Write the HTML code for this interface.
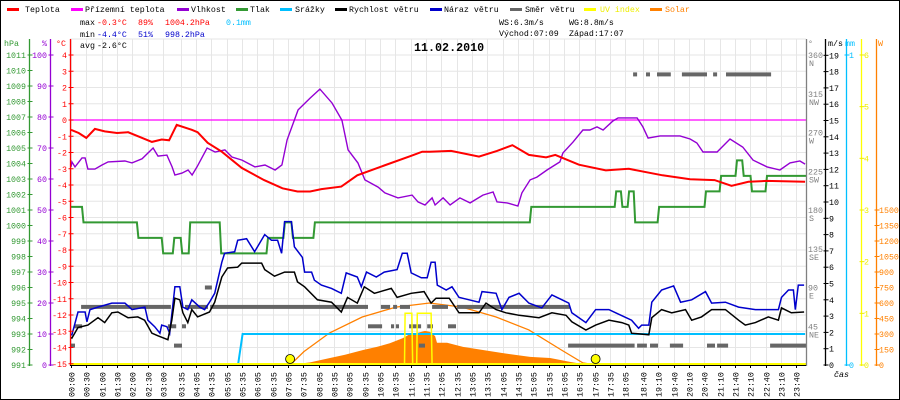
<!DOCTYPE html>
<html><head><meta charset="utf-8"><title>11.02.2010</title>
<style>
html,body{margin:0;padding:0;background:#fff;}
svg{display:block;}
text{font-family:"Liberation Mono",monospace;font-size:8.3px;}
</style></head>
<body>
<svg id="chart" width="900" height="400" viewBox="0 0 900 400" xmlns="http://www.w3.org/2000/svg">
<rect x="0.5" y="0.5" width="899" height="399" fill="#fff" stroke="#000" stroke-width="1"/>
<g id="grid"></g>
<g id="series"></g>
<g id="axes"></g>
<g>
  <rect x="7" y="8" width="12" height="3" fill="#ff0000"/><text x="25" y="12">Teplota</text>
  <rect x="71" y="8" width="12" height="3" fill="#ff00ff"/><text x="85" y="12">Přízemní teplota</text>
  <rect x="177" y="8" width="12" height="3" fill="#9400d3"/><text x="191" y="12">Vlhkost</text>
  <rect x="236" y="8" width="12" height="3" fill="#339933"/><text x="250" y="12">Tlak</text>
  <rect x="280" y="8" width="12" height="3" fill="#00bfff"/><text x="295" y="12">Srážky</text>
  <rect x="335" y="8" width="12" height="3" fill="#000"/><text x="349" y="12">Rychlost větru</text>
  <rect x="430" y="8" width="12" height="3" fill="#0000cc"/><text x="444" y="12">Náraz větru</text>
  <rect x="510" y="8" width="12" height="3" fill="#666"/><text x="525" y="12">Směr větru</text>
  <rect x="584" y="8" width="12" height="3" fill="#ffff00"/><text x="600" y="12" fill="#eeee00">UV index</text>
  <rect x="650" y="8" width="12" height="3" fill="#ff8000"/><text x="665" y="12" fill="#ff8000">Solar</text>
</g>
<g>
  <text x="80" y="25">max</text>
  <text x="97" y="25" fill="#ff0000">-0.3°C</text>
  <text x="138" y="25" fill="#ff0000">89%</text>
  <text x="165" y="25" fill="#ff0000">1004.2hPa</text>
  <text x="226" y="25" fill="#00bfff">0.1mm</text>
  <text x="80" y="37">min</text>
  <text x="97" y="37" fill="#0000cc">-4.4°C</text>
  <text x="138" y="37" fill="#0000cc">51%</text>
  <text x="165" y="37" fill="#0000cc">998.2hPa</text>
  <text x="80" y="48">avg</text>
  <text x="97" y="48">-2.6°C</text>
  <text x="499" y="25">WS:6.3m/s</text>
  <text x="569" y="25">WG:8.8m/s</text>
  <text x="499" y="36">Východ:07:09</text>
  <text x="569" y="36">Západ:17:07</text>
  <text x="414" y="51" style="font-size:11.7px;font-weight:bold">11.02.2010</text>
</g>
</svg>
<script>
// ---- data ----
const timeTickHours = [0,0.5,1,1.5,2,2.5,3,3.583,4.083,4.583,5.083,5.583,6.083,6.583,7.083,7.583,8.083,8.583,9.083,9.583,10.083,10.583,11.083,11.583,12.083,12.583,13.083,13.583,14.083,14.583,15.083,15.583,16.083,16.583,17.083,17.583,18.083,18.667,19.167,19.667,20.167,20.667,21.167,21.667,22.167,22.667,23.167,23.667];
const timeTickLabels = ["00:00","00:30","01:00","01:30","02:00","02:30","03:00","03:35","04:05","04:35","05:05","05:35","06:05","06:35","07:05","07:35","08:05","08:35","09:05","09:35","10:05","10:35","11:05","11:35","12:05","12:35","13:05","13:35","14:05","14:35","15:05","15:35","16:05","16:35","17:05","17:35","18:05","18:40","19:10","19:40","20:10","20:40","21:10","21:40","22:10","22:40","23:10","23:40"];

const tempT = [0,0.25,0.5,0.78,1.1,1.5,1.86,2.25,2.64,2.96,3.2,3.45,3.94,4.13,4.46,4.92,5.57,6.3,6.9,7.39,7.8,8.17,8.82,9.34,10.22,11.1,11.46,11.7,12.4,13.31,13.9,14.4,14.94,15.5,15.8,16.57,17.45,18.2,19.3,20.2,21.0,21.55,22.1,22.7,23.95];
const tempV = [-0.6,-0.8,-1.1,-0.55,-0.7,-0.8,-0.75,-1.05,-1.35,-1.2,-1.25,-0.3,-0.6,-0.75,-1.4,-1.95,-2.95,-3.7,-4.2,-4.4,-4.4,-4.25,-4.1,-3.4,-2.8,-2.2,-1.95,-1.95,-1.9,-2.25,-1.9,-1.55,-2.15,-2.3,-2.15,-2.75,-3.1,-3.0,-3.4,-3.65,-3.7,-4.05,-3.8,-3.75,-3.8];

const groundT = [0,23.95];
const groundV = [0,0];

const humT = [0,0.03,0.13,0.36,0.46,0.55,0.78,1.01,1.21,1.76,1.99,2.32,2.68,2.84,3.13,3.3,3.39,3.62,3.82,3.95,4.11,4.44,4.7,5.02,5.25,5.58,6.0,6.33,6.66,6.88,7.05,7.41,7.8,8.12,8.52,8.84,9.04,9.36,9.59,10.02,10.24,10.67,11.13,11.32,11.55,11.78,11.88,12.14,12.37,12.69,13.02,13.44,13.77,13.9,14.23,14.58,14.71,14.98,15.2,15.53,15.95,16.05,16.38,16.7,16.93,17.16,17.36,17.68,17.85,18.47,18.66,18.83,19.22,19.87,20.2,20.42,20.62,21.08,21.5,21.92,22.25,22.71,23.13,23.46,23.78,23.95];
const humV = [63.9,65.5,63.9,66.8,66.8,63.2,63.2,64.5,65.5,65.8,65.2,66.5,70,67.4,67.7,63.9,61.3,61.9,62.9,61.3,63.9,70,68.7,69.4,67.1,66.1,63.9,64.5,62.9,64.5,72.6,82.3,86.1,89,84.5,79,69.4,65.2,59.7,57.4,55.5,53.9,54.8,52.6,51.6,53.9,51.6,53.9,51.6,53.9,52.3,54.8,55.8,52.6,52.3,51.3,55.5,59.7,60.6,62.9,65.5,68.4,71.9,75.8,75.8,76.8,75.8,78.7,79.7,79.7,76.8,73.2,73.9,73.9,72.9,71.6,68.7,68.7,72.9,70.3,66.1,63.9,62.9,65.2,65.8,64.8];

const pressStartT = [0,0.36,2.15,2.96,3.32,3.58,3.84,4.85,6.38,6.93,7.19,7.91,14.97,17.74,17.94,18.16,18.36,19.14,20.67,21.16,21.68,21.9,22.17,22.66];
const pressV = [1001.2,1000.2,999.2,998.2,999.2,998.2,1000.2,998.2,999.2,1000.2,999.2,1000.2,1001.2,1002.2,1001.2,1002.2,1000.2,1001.2,1002.2,1003.2,1004.2,1003.2,1002.2,1003.2];

const rainT = [0,5.45,5.6,23.95];
const rainV = [0,0,0.1,0.1];

const windT = [0,0.03,0.23,0.55,0.88,1.1,1.33,1.53,1.86,2.18,2.4,2.64,2.83,3.16,3.29,3.39,3.55,3.65,3.81,3.94,4.13,4.52,4.69,4.92,5.11,5.44,5.57,6.22,6.32,6.64,6.97,7.29,7.39,7.62,8.04,8.5,8.82,9.02,9.34,9.57,9.9,10.45,10.64,11.1,11.52,11.75,11.91,12.34,12.66,13.31,13.54,13.87,14.19,14.62,15.27,15.69,16.15,16.34,16.8,17.12,17.55,17.97,18.2,18.29,18.85,18.95,19.27,19.6,20.05,20.25,20.57,20.9,21.35,21.78,22.0,22.33,22.75,23.08,23.18,23.5,23.92];
const windV = [1.7,1.65,2.3,2.45,2.9,2.6,3.2,3.25,2.9,2.95,2.75,1.95,1.8,1.55,2.75,4.1,4.0,3.2,2.6,3.4,2.95,3.25,3.85,5.4,5.95,6.0,6.25,6.25,5.85,5.45,5.7,5.7,5.1,4.8,4.0,3.85,3.25,4.15,3.8,4.8,4.4,4.7,4.15,4.4,4.5,3.8,4.1,4.1,3.2,3.2,3.8,3.4,3.2,3.05,2.9,3.2,3.05,2.65,2.15,2.45,2.75,2.6,2.45,1.95,1.85,2.9,3.4,3.2,3.4,2.75,2.95,3.4,3.4,2.75,2.45,2.6,2.95,2.75,3.5,3.2,3.25];

const gustT = [0,0.03,0.23,0.46,0.52,0.62,0.88,1.33,1.76,1.99,2.41,2.51,2.73,2.9,2.96,3.13,3.22,3.39,3.55,3.65,3.81,3.94,4.2,4.36,4.52,4.69,4.92,5.01,5.34,5.44,5.73,5.99,6.32,6.54,6.74,6.87,6.97,7.19,7.29,7.55,7.62,7.85,7.94,8.17,8.5,8.82,8.98,9.34,9.47,9.64,9.96,10.22,10.64,10.81,10.97,11.1,11.43,11.62,11.75,11.88,11.95,12.24,12.43,12.66,12.99,13.31,13.41,13.87,14.06,14.29,14.62,14.94,15.36,15.69,16.02,16.24,16.34,16.8,17.12,17.55,17.77,18.29,18.52,18.62,18.85,18.95,19.27,19.66,19.89,20.25,20.7,20.9,21.35,21.78,22.33,23.08,23.18,23.41,23.57,23.63,23.73,23.92];
const gustV = [1.85,1.85,3.25,3.25,2.65,3.4,3.55,3.8,3.8,3.4,3.55,2.75,2.35,1.95,2.45,2.35,1.95,4.8,4.8,3.55,3.4,4.0,3.55,3.4,3.85,4.4,6.3,6.85,6.95,7.65,7.75,6.95,8.0,7.65,7.65,6.85,8.8,8.8,7.25,6.6,5.7,5.7,5.2,4.9,4.7,4.4,5.65,5.4,4.8,5.7,5.4,5.7,5.85,6.85,6.85,5.65,5.35,5.35,6.3,6.3,4.9,4.6,4.8,4.15,4.0,3.85,4.5,4.4,3.4,4.15,4.4,3.8,3.5,4.3,4.0,3.8,3.2,2.6,3.4,3.4,3.2,2.75,2.25,2.45,2.45,3.85,4.6,4.85,3.85,4.0,4.5,3.8,3.85,3.55,3.4,3.4,4.15,4.6,4.6,3.4,4.9,4.9];

const dirStart = [0,0.1,0.33,3.16,3.36,3.62,3.72,4.37,4.54,9.69,10.11,10.44,10.51,10.6,10.73,11.03,11.35,11.62,11.78,12.3,12.59,16.22,18.47,18.89,19.54,20.75,21.08,22.81,18.34,18.76,19.12,19.93,20.95,21.37];
const dirEnd   = [0.13,0.36,3.26,3.43,3.62,3.75,4.47,4.6,9.69,10.15,10.41,10.54,10.64,10.7,11.06,11.42,11.55,11.81,12.3,12.56,16.28,18.39,18.79,19.15,19.97,21.01,21.44,23.98,18.47,18.89,19.57,20.75,21.08,22.84];
const dirDeg   = [22.5,45,67.5,45,22.5,45,67.5,90,67.5,45,67.5,45,67.5,45,67.5,45,22.5,45,67.5,45,67.5,22.5,22.5,22.5,22.5,22.5,22.5,22.5,337.5,337.5,337.5,337.5,337.5,337.5];

const uvT = [0,10.88,10.9,11.12,11.15,11.28,11.3,11.75,11.78,23.95];
const uvV = [0,0,1,1,0,0,1,1,0,0];

const solarT = [7.15,7.37,7.8,8.45,8.94,9.53,9.98,10.4,10.83,11.06,11.29,11.55,11.71,11.88,11.94,12.27,12.79,13.44,14.09,14.98,15.63,16.28,16.7,16.93];
const solarV = [0,10,25,68,100,145,175,210,260,300,310,330,320,280,215,215,175,145,115,78,68,30,10,0];

const solarMaxT = [7.15,7.6,8.43,9.5,10.6,11.7,12.76,13.87,14.94,16.0,16.7,17.12];
const solarMaxV = [0,130,310,465,560,600,560,465,340,145,20,0];

const sunEventsT = [7.15,17.117];
const sunEventsName = ["sunrise-marker","sunset-marker"];

const hpaTicks = [991,992,993,994,995,996,997,998,999,1000,1001,1002,1003,1004,1005,1006,1007,1008,1009,1010,1011];
const humTicks = [0,10,20,30,40,50,60,70,80,90,100];
const tempTicks = [4,3,2,1,0,-1,-2,-3,-4,-5,-6,-7,-8,-9,-10,-11,-12,-13,-14,-15];
const dirTicks = [45,90,135,180,225,270,315,360];
const dirLabels = ["NE","E","SE","S","SW","W","NW","N"];
const msTicks = [0,1,2,3,4,5,6,7,8,9,10,11,12,13,14,15,16,17,18,19];
const uvTicks = [0,1,2,3,4,5,6];
const wTicks = [0,150,300,450,600,750,900,1050,1200,1350,1500];

// ---- scales ----
const X = t => 71 + t*30.65;
const yT = v => 120 - v*16.25;
const yH = v => 365 - v*3.1;
const yP = v => 365 - (v-991)*15.5;
const yV = v => 365 - v*16.3;
const yD = v => 365 - v*0.8611;
const yR = v => 365 - v*310;
const yU = v => 365 - v*51.67;
const yW = v => 365 - v*0.10333;

const NS = "http://www.w3.org/2000/svg";
function mk(tag, parent, attrs){
  const e = document.createElementNS(NS, tag);
  for (const k in attrs) e.setAttribute(k, attrs[k]);
  parent.appendChild(e);
  return e;
}
const grid = document.getElementById('grid');
const ser = document.getElementById('series');
const axes = document.getElementById('axes');

// grid
tempTicks.forEach(v => {
  const l = mk('line', grid, {x1:70, x2:806, y1:yT(v), y2:yT(v), stroke:'#e6e6e6', 'stroke-width':1});
  
  
});
{
  const l = mk('line', grid, {x1:70, x2:806, y1:39, y2:39, stroke:'#e6e6e6', 'stroke-width':1});
  
  
}
timeTickHours.forEach((t, i) => {
  const x = Math.round(X(t)) + 0.5;
  const l = mk('line', grid, {x1:x, x2:x, y1:39, y2:365, stroke:'#e6e6e6', 'stroke-width':1});
  
  
  const tk = mk('line', axes, {x1:x, x2:x, y1:365, y2:368, stroke:'#000', 'stroke-width':1});
  
  
  const tx = mk('text', axes, {x:0, y:0, transform:`translate(${x+3},397) rotate(-90)`});
  tx.textContent = timeTickLabels[i];
  
  
});

function pts(ts, vs, fy){ return ts.map((t,i)=> X(t).toFixed(1)+','+fy(vs[i]).toFixed(1)).join(' '); }

// solar fill (actual)
{
  let d = `M${X(solarT[0])},365 ` + solarT.map((t,i)=>`L${X(t).toFixed(1)},${yW(solarV[i]).toFixed(1)}`).join(' ') + ` L${X(solarT[solarT.length-1])},365 Z`;
  const p = mk('path', ser, {d:d, fill:'#ff8000', stroke:'none'});
  
  
}
// solar theoretical
{
  const p = mk('polyline', ser, {points:pts(solarMaxT, solarMaxV, yW), fill:'none', stroke:'#ff8000', 'stroke-width':1.3});
  
  
}
// wind direction blocks
dirStart.forEach((s, i) => {
  const x1 = X(s), x2 = X(dirEnd[i]);
  const r = mk('rect', ser, {x:x1.toFixed(1), y:(yD(dirDeg[i])-2).toFixed(1), width:Math.max(3,x2-x1).toFixed(1), height:4, fill:'#666'});
  
  
});
// ground temp
{
  const p = mk('polyline', ser, {points:'70,'+yT(groundV[0])+' 806,'+yT(groundV[1]), fill:'none', stroke:'#ff00ff', 'stroke-width':1.3});
  
  
}
// pressure step
{
  let p = [];
  pressStartT.forEach((t,i)=>{
    if (i>0) p.push(X(t).toFixed(1)+','+yP(pressV[i-1]).toFixed(1));
    p.push((X(t)+(i>0?1.5:0)).toFixed(1)+','+yP(pressV[i]).toFixed(1));
  });
  p.push('806,'+yP(pressV[pressV.length-1]).toFixed(1));
  const l = mk('polyline', ser, {points:p.join(' '), fill:'none', stroke:'#339933', 'stroke-width':2});
  
  
}
// rain
{
  const l = mk('polyline', ser, {points:pts(rainT, rainV, yR), fill:'none', stroke:'#00bfff', 'stroke-width':2});
  
  
}
// humidity
{
  const l = mk('polyline', ser, {points:pts(humT, humV, yH), fill:'none', stroke:'#9400d3', 'stroke-width':1.4});
  
  
}
// temp
{
  const l = mk('polyline', ser, {points:pts(tempT, tempV, yT), fill:'none', stroke:'#ff0000', 'stroke-width':2});
  
  
}
// gust
{
  const l = mk('polyline', ser, {points:pts(gustT, gustV, yV), fill:'none', stroke:'#0000cc', 'stroke-width':1.5});
  
  
}
// wind speed
{
  const l = mk('polyline', ser, {points:pts(windT, windV, yV), fill:'none', stroke:'#000', 'stroke-width':1.5});
  
  
}
// uv
{
  const l = mk('polyline', ser, {points:pts(uvT, uvV, yU), fill:'none', stroke:'#ffff00', 'stroke-width':1.5});
  
  
  const b = mk('line', ser, {x1:70, x2:806, y1:364, y2:364, stroke:'#ffff00', 'stroke-width':2});
  
  
}
// sun events
sunEventsT.forEach((t,i)=>{
  const c = mk('circle', ser, {cx:X(t).toFixed(1), cy:359, r:4.5, fill:'#ffff00', stroke:'#000', 'stroke-width':0.8});
  
  
});

// axes
function vline(x, color, name){
  const l = mk('line', axes, {x1:x, x2:x, y1:39, y2:366, stroke:color, 'stroke-width':1.3});
  
  
}
vline(29.5,'#339933','hpa-axis');
vline(50.5,'#9400d3','humidity-axis');
vline(70.5,'#ff0000','temp-axis');
vline(806.5,'#808080','direction-axis');
vline(825.5,'#000','wind-axis');
vline(846.5,'#00bfff','rain-axis');
vline(861.5,'#ffff00','uv-axis');
vline(876.5,'#ff8000','solar-axis');
{
  const l = mk('line', axes, {x1:70, x2:806, y1:365.5, y2:365.5, stroke:'#000', 'stroke-width':1});
  
  
}
function ticks(vals, fy, ax, color, lx, anchor, name, labels){
  vals.forEach((v,i)=>{
    const y = fy(v);
    const t = mk('line', axes, {x1:ax-2, x2:ax+3, y1:y, y2:y, stroke:color, 'stroke-width':1});
    
    
    const tx = mk('text', axes, {x:lx, y:(y+3).toFixed(1), fill:color, 'text-anchor':anchor});
    tx.textContent = labels ? labels[i] : String(v);
    
    
  });
}
ticks(hpaTicks, yP, 29.5, '#339933', 26, 'end', 'hpa');
ticks(humTicks, yH, 50.5, '#9400d3', 47, 'end', 'humidity');
ticks(tempTicks, yT, 70.5, '#ff0000', 67, 'end', 'temp');
ticks(msTicks, yV, 825.5, '#000', 829, 'start', 'wind');
ticks([0,1], yR, 846.5, '#00bfff', 849, 'start', 'rain');
ticks(uvTicks, yU, 861.5, '#eeee00', 864, 'start', 'uv');
ticks(wTicks, yW, 876.5, '#ff8000', 879, 'start', 'solar');
dirTicks.forEach((v,i)=>{
  const y = yD(v);
  const a = mk('text', axes, {x:808, y:(y+3).toFixed(1), fill:'#808080'});
  a.textContent = String(v);
  
  
  const b = mk('text', axes, {x:809, y:(y+11).toFixed(1), fill:'#808080'});
  b.textContent = dirLabels[i];
  
  
});
[['hPa',4,'#339933'],['%',42,'#9400d3'],['°C',56,'#ff0000'],['°',808,'#808080'],['m/s',828,'#000'],['mm',845,'#00bfff'],['W',878,'#ff8000']].forEach(u=>{
  const t = mk('text', axes, {x:u[1], y:46, fill:u[2]});
  t.textContent = u[0];
  
  
});
{
  const t = mk('text', axes, {x:834, y:377, 'font-style':'italic'});
  t.textContent = 'čas';
  
  
}
</script>
</body></html>
